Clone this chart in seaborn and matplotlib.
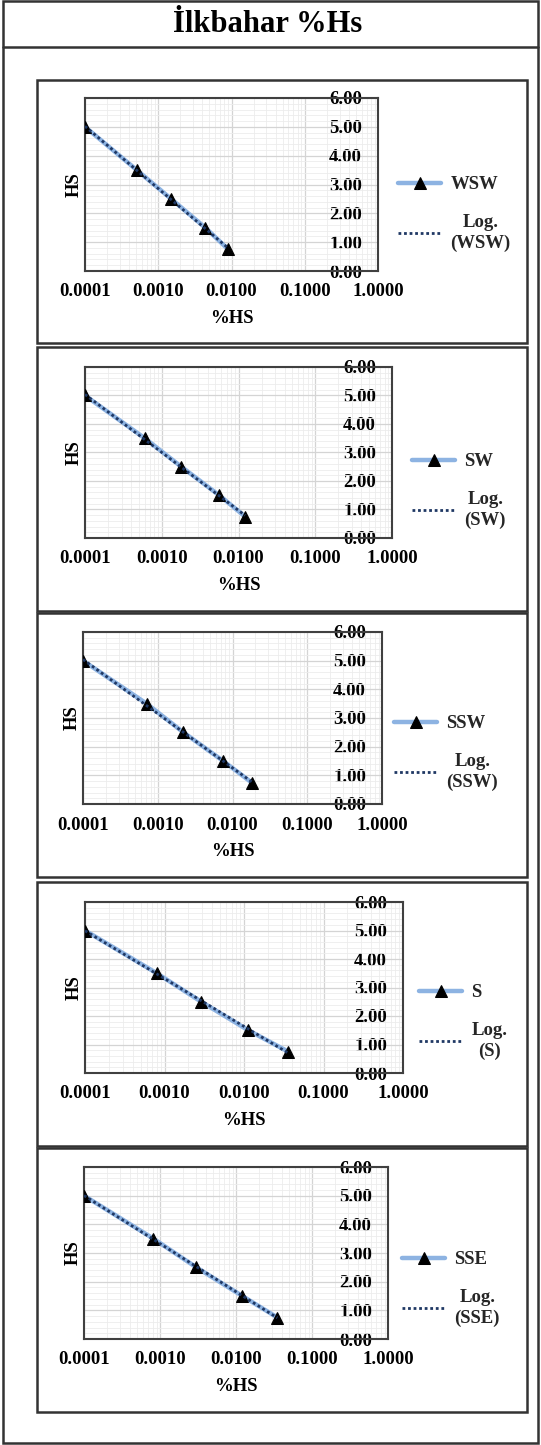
import numpy as np
import matplotlib
matplotlib.use("Agg")
import matplotlib.pyplot as plt
import seaborn as sns
from matplotlib.patches import Rectangle
from matplotlib.lines import Line2D
from matplotlib.ticker import FixedLocator, LogLocator, MultipleLocator, NullFormatter

# ---------------- data ----------------
title = "İlkbahar %Hs"
directions = ["WSW", "SW", "SSW", "S", "SSE"]
hs_values = [5.0, 3.5, 2.5, 1.5, 0.75]
pct_wsw = [0.0001, 0.00051, 0.0015, 0.0044, 0.0090]
pct_sw = [0.0001, 0.00060, 0.0018, 0.0056, 0.0122]
pct_ssw = [0.0001, 0.00071, 0.0022, 0.0075, 0.0180]
pct_s = [0.0001, 0.00080, 0.0029, 0.0113, 0.0360]
pct_sse = [0.0001, 0.00082, 0.0030, 0.0121, 0.0350]
x_ticks = [0.0001, 0.001, 0.01, 0.1, 1.0]
x_tick_labels = ["0.0001", "0.0010", "0.0100", "0.1000", "1.0000"]
y_ticks = [0, 1, 2, 3, 4, 5, 6]
y_tick_labels = ["0.00", "1.00", "2.00", "3.00", "4.00", "5.00", "6.00"]
series_pct = [pct_wsw, pct_sw, pct_ssw, pct_s, pct_sse]

# ---------------- style ----------------
sns.set_theme(style="white")
plt.rcParams["font.family"] = ["Liberation Serif", "DejaVu Serif"]
plt.rcParams["font.weight"] = "bold"

W, H = 541, 1445
fig = plt.figure(figsize=(W / 100, H / 100), dpi=100)
fig.patch.set_facecolor("white")


def rect_fig(x0, y0, x1, y1):
    return [x0 / W, 1 - y1 / H, (x1 - x0) / W, (y1 - y0) / H]


def box(x0, y0, x1, y1, lw=1.8, color="#333333"):
    r = Rectangle((x0 / W, 1 - y1 / H), (x1 - x0) / W, (y1 - y0) / H,
                  transform=fig.transFigure, fill=False, lw=lw, ec=color)
    fig.patches.append(r)


# outer frame + title
box(3, 1, 538, 1443, lw=1.8)
fig.add_artist(Line2D([3 / W, 538 / W], [1 - 47 / H, 1 - 47 / H],
                      transform=fig.transFigure, color="#333333", lw=1.8))
fig.text(268 / W, 1 - 24 / H, title, ha="center", va="center",
         fontsize=22, fontweight="bold", color="black")

panel_boxes = [(37, 80, 527, 343), (37, 347, 527, 611), (37, 613, 527, 877),
               (37, 882, 527, 1146), (37, 1148, 527, 1412)]
axes_rects = [(85, 98, 378, 271), (85, 367, 392, 538), (83, 632, 382, 804),
              (85, 902, 403, 1073), (84, 1167, 388, 1339)]
legend_anchor = [(398, 214), (412, 491), (394, 753), (419, 1022), (402, 1289)]

FS = 13.5
for i, name in enumerate(directions):
    box(*panel_boxes[i])
    ax = fig.add_axes(rect_fig(*axes_rects[i]))
    xs = np.array(series_pct[i])
    ys = np.array(hs_values)

    sns.lineplot(x=xs, y=ys, ax=ax, color="#8DB3E2", lw=3.2, marker="^",
                 markersize=9, markerfacecolor="black", markeredgecolor="black",
                 label=name, zorder=3)
    # logarithmic trendline
    a, b = np.polyfit(np.log(xs), ys, 1)
    tx = np.logspace(np.log10(xs.min()), np.log10(xs.max()), 50)
    sns.lineplot(x=tx, y=a * np.log(tx) + b, ax=ax, color="#1F3864", lw=2.0,
                 linestyle=(0, (1, 1)), label=f"Log.\n({name})", zorder=4)

    ax.set_xscale("log")
    ax.set_xlim(1e-4, 1)
    ax.set_ylim(0, 6)
    ax.xaxis.set_major_locator(FixedLocator(x_ticks))
    ax.set_xticklabels(x_tick_labels)
    ax.xaxis.set_minor_locator(LogLocator(base=10, subs=np.arange(2, 10)))
    ax.xaxis.set_minor_formatter(NullFormatter())
    ax.set_yticks(y_ticks)
    ax.set_yticklabels(y_tick_labels)
    ax.yaxis.set_minor_locator(MultipleLocator(0.2))

    ax.grid(True, which="major", color="#d4d4d4", lw=0.9, zorder=0)
    ax.grid(True, which="minor", color="#ececec", lw=0.6, zorder=0)
    ax.set_axisbelow(True)

    ax.tick_params(axis="x", which="both", length=0, pad=9,
                   labelsize=FS, labelcolor="black")
    ax.tick_params(axis="y", which="both", length=0, left=False, right=False,
                   labelleft=False, labelright=True, pad=-11.5,
                   labelsize=FS, labelcolor="black")
    for lbl in ax.get_yticklabels():
        lbl.set_horizontalalignment("right")
        lbl.set_fontweight("bold")
    for lbl in ax.get_xticklabels():
        lbl.set_fontweight("bold")

    for sp in ax.spines.values():
        sp.set_color("#404040")
        sp.set_linewidth(1.5)

    ax.set_xlabel("%HS", fontsize=FS, fontweight="bold", labelpad=7, color="black")
    ax.set_ylabel("HS", fontsize=FS, fontweight="bold", labelpad=2, color="black")

    lx, ly = legend_anchor[i]
    leg = ax.legend(loc="center left", bbox_to_anchor=(lx / W, 1 - ly / H),
                    bbox_transform=fig.transFigure, frameon=False,
                    fontsize=FS, handlelength=2.3, handletextpad=0.5,
                    labelspacing=1.1, borderaxespad=0, borderpad=0)
    for t in leg.get_texts():
        t.set_fontweight("bold")
        t.set_multialignment("center")
        t.set_linespacing(1.3)

fig.savefig("out.png", dpi=100, facecolor="white")
